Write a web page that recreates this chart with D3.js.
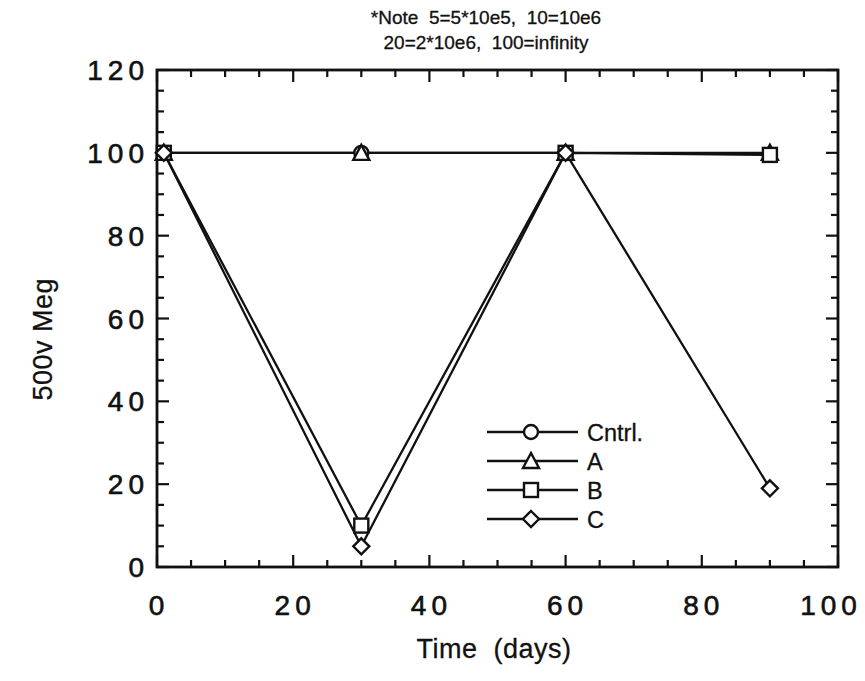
<!DOCTYPE html>
<html>
<head>
<meta charset="utf-8">
<script src="https://cdn.jsdelivr.net/npm/d3@7/dist/d3.min.js"></script>
<style>
  body { margin: 0; background: #fff; }
  svg text { font-family: "Liberation Sans", Arial, sans-serif; fill: #111; }
</style>
</head>
<body>
<script>
// values
var days = [1, 30, 60, 90];
var cntrl = [100, 100, 100, null];
var serA = [100, 100, 100, 100];
var serB = [100, 10, 100, 99.5];
var serC = [100, 5, 100, 19];
var seriesNames = ["Cntrl.", "A", "B", "C"];
var seriesShapes = ["circle", "triangle", "square", "diamond"];
var xTicks = [0, 20, 40, 60, 80, 100];
var yTicks = [0, 20, 40, 60, 80, 100, 120];
var noteLines = ["*Note  5=5*10e5,  10=10e6", "20=2*10e6,  100=infinity"];

var W = 865, H = 681;
var m = {left: 157, right: 27, top: 70, bottom: 114};

var svg = d3.select("body").append("svg").attr("width", W).attr("height", H);

var x = d3.scaleLinear().domain([0, 100]).range([m.left, W - m.right]);
var y = d3.scaleLinear().domain([0, 120]).range([H - m.bottom, m.top]);

var ink = "#111";

// frame
svg.append("rect")
    .attr("x", x(0)).attr("y", y(120))
    .attr("width", x(100) - x(0)).attr("height", y(0) - y(120))
    .attr("fill", "none").attr("stroke", ink).attr("stroke-width", 2.8);

// ticks, pointing inward on all four sides
function ticksX(vals, len) {
  vals.forEach(function(v) {
    svg.append("line").attr("x1", x(v)).attr("x2", x(v))
        .attr("y1", y(0)).attr("y2", y(0) - len).attr("stroke", ink).attr("stroke-width", 2.2);
    svg.append("line").attr("x1", x(v)).attr("x2", x(v))
        .attr("y1", y(120)).attr("y2", y(120) + len).attr("stroke", ink).attr("stroke-width", 2.2);
  });
}
function ticksY(vals, len) {
  vals.forEach(function(v) {
    svg.append("line").attr("y1", y(v)).attr("y2", y(v))
        .attr("x1", x(0)).attr("x2", x(0) + len).attr("stroke", ink).attr("stroke-width", 2.2);
    svg.append("line").attr("y1", y(v)).attr("y2", y(v))
        .attr("x1", x(100)).attr("x2", x(100) - len).attr("stroke", ink).attr("stroke-width", 2.2);
  });
}
ticksX(d3.range(5, 100, 5).filter(function(v) { return v % 20; }), 7);
ticksX(xTicks, 12);
ticksY(d3.range(5, 120, 5).filter(function(v) { return v % 20; }), 7);
ticksY(yTicks, 12);

// tick labels (the last one is kept inside the page)
svg.selectAll(".xl").data(xTicks).enter().append("text")
    .attr("x", function(d) { return Math.min(x(d) + 2, W - 34); })
    .attr("y", y(0) + 48)
    .attr("text-anchor", "middle")
    .attr("font-size", 28).attr("letter-spacing", 5)
    .attr("stroke", ink).attr("stroke-width", 0.6)
    .text(function(d) { return d; });

svg.selectAll(".yl").data(yTicks).enter().append("text")
    .attr("x", x(0) - 8)
    .attr("y", function(d) { return y(d) + 10; })
    .attr("text-anchor", "end")
    .attr("font-size", 28).attr("letter-spacing", 5)
    .attr("stroke", ink).attr("stroke-width", 0.6)
    .text(function(d) { return d; });

// axis titles
svg.append("text")
    .attr("x", 494).attr("y", 658)
    .attr("text-anchor", "middle").attr("font-size", 27)
    .attr("letter-spacing", 0.5)
    .attr("stroke", ink).attr("stroke-width", 0.3)
    .attr("xml:space", "preserve")
    .text("Time  (days)");

svg.append("text")
    .attr("transform", "translate(52," + y(55) + ") rotate(-90)")
    .attr("text-anchor", "middle").attr("font-size", 27)
    .attr("letter-spacing", 0.5)
    .attr("stroke", ink).attr("stroke-width", 0.3)
    .text("500v Meg");

// note
noteLines.forEach(function(t, i) {
  svg.append("text")
      .attr("x", 486).attr("y", 24 + i * 25)
      .attr("text-anchor", "middle").attr("font-size", 19)
      .attr("stroke", ink).attr("stroke-width", 0.3)
      .attr("xml:space", "preserve")
      .text(t);
});

// series
var allSeries = [cntrl, serA, serB, serC];
var line = d3.line()
    .defined(function(d) { return d[1] != null; })
    .x(function(d) { return x(d[0]); })
    .y(function(d) { return y(d[1]); });

allSeries.forEach(function(vals) {
  var pts = days.map(function(d, i) { return [d, vals[i]]; });
  svg.append("path").datum(pts).attr("d", line)
      .attr("fill", "none").attr("stroke", ink).attr("stroke-width", 2.3);
});

function marker(sel, shape, cx, cy) {
  var s = 7;
  if (shape == "circle")
    sel.append("circle").attr("cx", cx).attr("cy", cy).attr("r", s);
  else if (shape == "triangle")
    sel.append("path").attr("d", "M" + cx + "," + (cy - s - 1) + "L" + (cx + s + 1) + "," + (cy + s) + "L" + (cx - s - 1) + "," + (cy + s) + "Z");
  else if (shape == "square")
    sel.append("rect").attr("x", cx - s).attr("y", cy - s).attr("width", 2 * s).attr("height", 2 * s);
  else
    sel.append("path").attr("d", "M" + cx + "," + (cy - s - 1) + "L" + (cx + s + 1) + "," + cy + "L" + cx + "," + (cy + s + 1) + "L" + (cx - s - 1) + "," + cy + "Z");
}

var mk = svg.append("g").attr("fill", "#fff").attr("stroke", ink).attr("stroke-width", 2.4);
allSeries.forEach(function(vals, k) {
  days.forEach(function(d, i) {
    if (vals[i] != null) marker(mk, seriesShapes[k], x(d), y(vals[i]));
  });
});

// legend
var lg = svg.append("g");
seriesNames.forEach(function(n, i) {
  var ly = 432 + i * 29;
  lg.append("line").attr("x1", 487).attr("x2", 578).attr("y1", ly).attr("y2", ly)
      .attr("stroke", ink).attr("stroke-width", 2.3);
  var g = lg.append("g").attr("fill", "#fff").attr("stroke", ink).attr("stroke-width", 2.4);
  marker(g, seriesShapes[i], 531, ly);
  lg.append("text").attr("x", 587).attr("y", ly + 9)
      .attr("font-size", 23.5)
      .attr("stroke", ink).attr("stroke-width", 0.3)
      .text(n);
});
</script>
</body>
</html>
